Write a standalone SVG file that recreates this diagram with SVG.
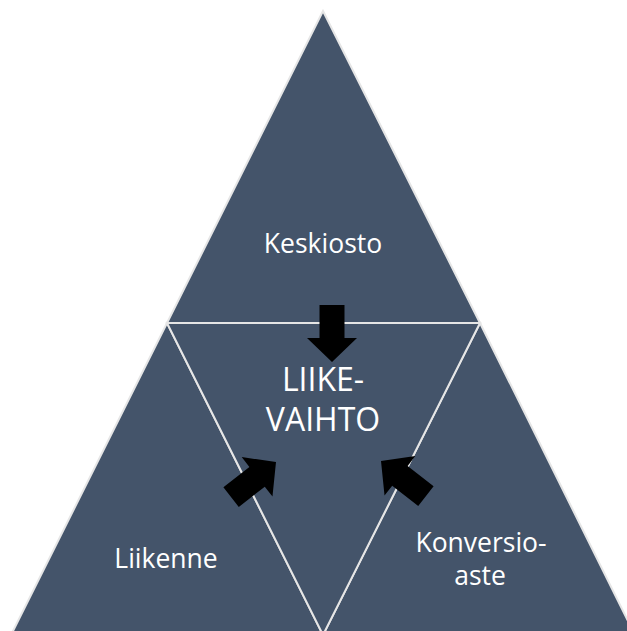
<svg xmlns="http://www.w3.org/2000/svg" width="627" height="631" viewBox="0 0 627 631">
  <defs>
    <style>
      .tri { fill: #44546A; stroke: #E6E6E6; stroke-width: 2; stroke-linejoin: miter; }
      .arrow { fill: #000000; }
      .lbl { fill: #FFFFFF; font-family: "Open Sans", "Liberation Sans", sans-serif; font-size: 26.5px; text-anchor: middle; }
      .big { font-size: 32px; }
    </style>
    <!-- block arrow pointing along +x with its tip at the origin -->
    <path id="blockArrow" d="M -57 -12.5 L -24 -12.5 L -24 -25 L 0 0 L -24 25 L -24 12.5 L -57 12.5 Z"/>
  </defs>
  <rect width="627" height="631" fill="#FFFFFF"/>

  <g id="top-keskiosto">
    <polygon class="tri" points="323,11 480,323 167,323"/>
    <text class="lbl" x="323" y="253">Keskiosto</text>
  </g>
  <g id="left-liikenne">
    <polygon class="tri" points="167,323 323,635 11,635"/>
    <text class="lbl" x="166" y="568">Liikenne</text>
  </g>
  <g id="right-konversioaste">
    <polygon class="tri" points="480,323 635,635 323,635"/>
    <text class="lbl" x="481" y="552">Konversio-</text>
    <text class="lbl" x="480" y="585">aste</text>
  </g>
  <g id="center-liikevaihto">
    <polygon class="tri" points="167,323 480,323 323,635"/>
    <text class="lbl big" x="323" y="391">LIIKE-</text>
    <text class="lbl big" x="323" y="431">VAIHTO</text>
  </g>

  <g id="connectors">
    <use href="#blockArrow" class="arrow" transform="translate(332,362) rotate(90)"/>
    <use href="#blockArrow" class="arrow" transform="translate(276,462) rotate(-38)"/>
    <use href="#blockArrow" class="arrow" transform="translate(381,461) rotate(-142)"/>
  </g>
</svg>
